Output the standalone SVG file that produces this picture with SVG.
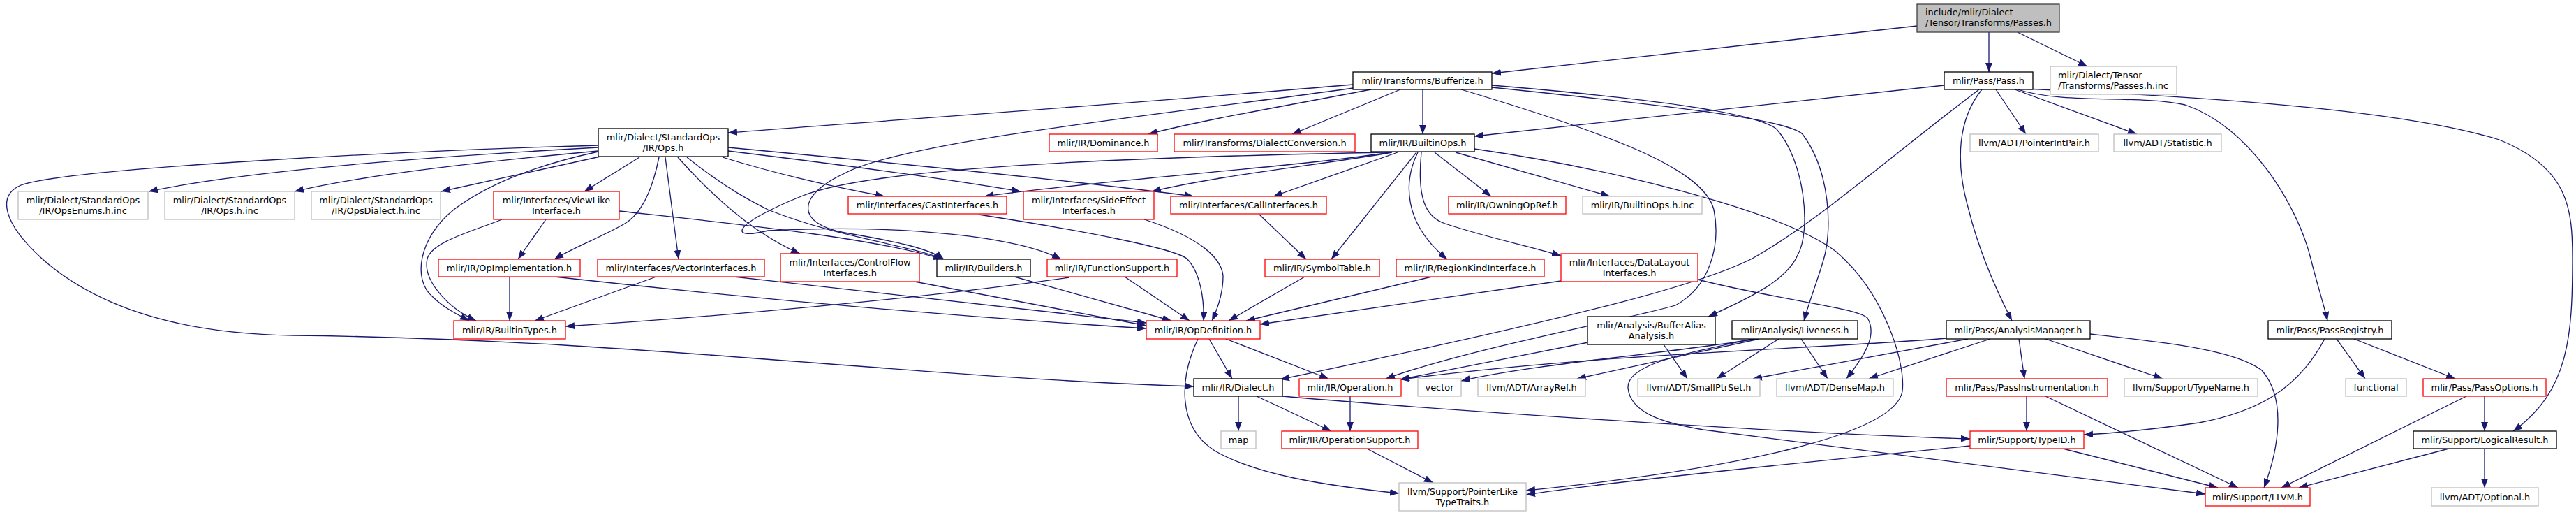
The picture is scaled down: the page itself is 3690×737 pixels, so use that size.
<svg xmlns="http://www.w3.org/2000/svg" width="3690" height="737" viewBox="0 0 3690 737">
<style>
.n rect{stroke-width:1.3}
.blk rect{fill:#fff;stroke:#000}
.red rect{fill:#fff;stroke:#ff0000}
.gry rect{fill:#fff;stroke:#bfbfbf}
.root rect{fill:#bfbfbf;stroke:#404040}
text{font-family:"DejaVu Sans","Liberation Sans",sans-serif;font-size:12.9px;fill:#000}
.c{text-anchor:middle}
#edges path{fill:none;stroke:#191970;stroke-width:1.3}
</style>
<defs>
<marker id="ah" markerUnits="userSpaceOnUse" markerWidth="14" markerHeight="10" refX="13" refY="5" orient="auto">
<path d="M0,0 L13,5 L0,10 z" fill="#191970"/>
</marker>
</defs>
<rect width="3690" height="737" fill="#fff"/>
<g id="edges" marker-end="url(#ah)">
<path d="M2746,37 L2137,105"/>
<path d="M2849,46 L2849,103"/>
<path d="M2890,46 L2990,95"/>
<path d="M1938,121 C1600,150 1300,170 1043,190"/>
<path d="M1938,126 C1700,160 1300,200 1210,248 C1140,280 1140,320 1210,333 C1280,345 1330,355 1352,371"/>
<path d="M1964,128 C1850,150 1720,172 1645,192"/>
<path d="M2006,128 L1851,192"/>
<path d="M2038,128 L2038,192"/>
<path d="M2137,122 C2350,140 2515,160 2545,185 C2585,230 2595,330 2575,365 C2560,400 2510,425 2447,453"/>
<path d="M2137,125 C2380,150 2560,170 2582,192 C2622,245 2625,330 2612,372 C2604,400 2592,430 2584,459"/>
<path d="M2093,128 C2300,190 2440,240 2455,300 C2465,350 2450,410 2400,437 C2340,455 2100,500 1985,542"/>
<path d="M2785,122 L2112,195"/>
<path d="M2835,128 C2700,230 2600,320 2510,370 C2440,405 2300,445 1834,543"/>
<path d="M2839,128 C2805,170 2800,230 2820,300 C2835,360 2862,420 2882,459"/>
<path d="M2859,128 L2902,192"/>
<path d="M2886,128 L3061,192"/>
<path d="M2890,128 C2960,150 3060,135 3130,150 C3220,180 3290,290 3310,370 C3320,410 3330,440 3334,459"/>
<path d="M2900,127 C3200,140 3450,160 3580,200 C3680,240 3685,300 3685,370 C3685,480 3680,560 3600,617"/>
<path d="M2788,484 C2600,500 2300,505 2006,543"/>
<path d="M2819,485 L2511,542"/>
<path d="M2851,485 L2677,542"/>
<path d="M2892,485 L2900,542"/>
<path d="M2930,485 L3098,542"/>
<path d="M2994,478 C3100,490 3200,500 3240,530 C3275,570 3265,640 3243,698"/>
<path d="M2903,567 L2903,617"/>
<path d="M2930,567 L3206,698"/>
<path d="M2822,638 C2600,660 2300,690 2186,708"/>
<path d="M2955,642 L3177,698"/>
<path d="M3330,485 C3290,560 3230,590 3150,605 C3080,615 3030,620 2985,622"/>
<path d="M3347,485 L3388,542"/>
<path d="M3372,485 L3517,542"/>
<path d="M3533,567 L3268,698"/>
<path d="M3559,567 L3559,617"/>
<path d="M3508,642 L3293,698"/>
<path d="M3559,642 L3559,698"/>
<path d="M2515,485 C2400,505 2200,520 2093,545"/>
<path d="M2520,485 L2259,542"/>
<path d="M2548,485 L2459,542"/>
<path d="M2580,485 L2618,542"/>
<path d="M2510,485 C2420,505 2330,520 2332,555 C2335,590 2380,605 2440,615 C2700,650 2950,680 3159,707"/>
<path d="M2275,490 L2006,543"/>
<path d="M2383,493 L2417,542"/>
<path d="M1732,485 L1765,542"/>
<path d="M1756,485 L1903,542"/>
<path d="M1716,485 C1690,540 1685,610 1740,645 C1800,680 1900,695 2004,706"/>
<path d="M1774,567 L1774,617"/>
<path d="M1800,567 L1907,617"/>
<path d="M1837,567 C2100,590 2600,622 2822,628"/>
<path d="M1934,567 L1934,617"/>
<path d="M1958,642 L2053,691"/>
<path d="M2112,213 C2300,240 2550,300 2630,360 C2700,420 2730,520 2725,560 C2715,620 2500,670 2186,702"/>
<path d="M2002,218 L1824,281"/>
<path d="M2029,218 L1907,371"/>
<path d="M2031,218 C2010,260 2010,320 2073,371"/>
<path d="M2036,218 C2030,280 2040,310 2070,320 C2130,340 2190,352 2236,366"/>
<path d="M2055,218 L2136,281"/>
<path d="M2085,218 L2306,281"/>
<path d="M1990,218 C1850,240 1600,255 1410,281"/>
<path d="M1994,218 C1900,235 1750,250 1650,274"/>
<path d="M1986,218 C1600,225 1250,240 1150,280 C1050,320 1040,345 1100,330 C1300,320 1460,340 1520,371"/>
<path d="M857,211 C600,225 350,245 213,274"/>
<path d="M857,216 C650,235 500,255 422,274"/>
<path d="M860,224 L632,274"/>
<path d="M857,208 C600,215 100,240 30,265 C-5,280 5,320 60,370 C150,450 280,478 420,480 C900,485 1300,540 1710,553"/>
<path d="M916,225 L837,274"/>
<path d="M857,217 C750,240 690,270 650,300 C600,340 590,400 620,425 C635,440 655,450 672,459"/>
<path d="M719,314 C680,330 620,345 612,370 C605,400 640,440 682,459"/>
<path d="M944,225 C935,270 920,305 895,320 C860,340 820,355 794,371"/>
<path d="M782,314 L742,371"/>
<path d="M953,225 L972,371"/>
<path d="M971,225 C1020,280 1080,335 1146,363"/>
<path d="M984,225 C1040,270 1080,290 1100,300 C1200,340 1300,350 1352,371"/>
<path d="M887,302 C1050,320 1250,340 1350,371"/>
<path d="M1035,225 C1100,245 1180,265 1267,281"/>
<path d="M1043,216 C1200,235 1350,255 1462,274"/>
<path d="M1043,211 C1300,235 1550,260 1710,281"/>
<path d="M1402,307 C1550,330 1680,355 1700,370 C1720,390 1725,430 1724,459"/>
<path d="M1639,314 C1720,340 1750,370 1752,395 C1752,420 1745,440 1736,459"/>
<path d="M1804,307 L1871,371"/>
<path d="M1869,396 L1760,459"/>
<path d="M2051,396 L1785,459"/>
<path d="M2236,402 L1805,464"/>
<path d="M2432,400 C2550,430 2660,440 2675,455 C2690,480 2670,510 2645,542"/>
<path d="M1310,403 L1642,466"/>
<path d="M1453,396 L1678,459"/>
<path d="M1611,396 L1704,459"/>
<path d="M1532,397 C1300,430 1000,455 810,467"/>
<path d="M730,396 L730,459"/>
<path d="M794,396 C1100,430 1400,455 1642,470"/>
<path d="M940,396 L766,459"/>
<path d="M1051,396 C1250,418 1450,440 1642,462"/>
</g>
<g id="n_passes" class="n root"><rect x="2746" y="6" width="204" height="40"/><text x="2758" y="22">include/mlir/Dialect</text><text x="2758" y="37">/Tensor/Transforms/Passes.h</text></g>
<g id="n_passinc" class="n gry"><rect x="2937" y="95" width="181" height="40"/><text x="2948" y="112">mlir/Dialect/Tensor</text><text x="2948" y="127">/Transforms/Passes.h.inc</text></g>
<g id="n_bufferize" class="n blk"><rect x="1938" y="103" width="199" height="25"/><text class="c" x="2037.5" y="120">mlir/Transforms/Bufferize.h</text></g>
<g id="n_pass" class="n blk"><rect x="2785" y="103" width="127" height="25"/><text class="c" x="2848.5" y="120">mlir/Pass/Pass.h</text></g>
<g id="n_opsh" class="n blk"><rect x="857" y="184" width="186" height="40"/><text class="c" x="950" y="201">mlir/Dialect/StandardOps</text><text class="c" x="950" y="216">/IR/Ops.h</text></g>
<g id="n_dominance" class="n red"><rect x="1503" y="192" width="155" height="25"/><text class="c" x="1580.5" y="209">mlir/IR/Dominance.h</text></g>
<g id="n_dialectconv" class="n red"><rect x="1682" y="192" width="259" height="25"/><text class="c" x="1811.5" y="209">mlir/Transforms/DialectConversion.h</text></g>
<g id="n_builtinops" class="n blk"><rect x="1964" y="192" width="148" height="25"/><text class="c" x="2038" y="209">mlir/IR/BuiltinOps.h</text></g>
<g id="n_pointerintpair" class="n gry"><rect x="2822" y="192" width="184" height="25"/><text class="c" x="2914" y="209">llvm/ADT/PointerIntPair.h</text></g>
<g id="n_statistic" class="n gry"><rect x="3028" y="192" width="154" height="25"/><text class="c" x="3105" y="209">llvm/ADT/Statistic.h</text></g>
<g id="n_opsenums" class="n gry"><rect x="26" y="274" width="186" height="40"/><text class="c" x="119" y="291">mlir/Dialect/StandardOps</text><text class="c" x="119" y="306">/IR/OpsEnums.h.inc</text></g>
<g id="n_opsinc" class="n gry"><rect x="236" y="274" width="186" height="40"/><text class="c" x="329" y="291">mlir/Dialect/StandardOps</text><text class="c" x="329" y="306">/IR/Ops.h.inc</text></g>
<g id="n_opsdialect" class="n gry"><rect x="446" y="274" width="185" height="40"/><text class="c" x="538.5" y="291">mlir/Dialect/StandardOps</text><text class="c" x="538.5" y="306">/IR/OpsDialect.h.inc</text></g>
<g id="n_viewlike" class="n red"><rect x="707" y="274" width="180" height="40"/><text class="c" x="797" y="291">mlir/Interfaces/ViewLike</text><text class="c" x="797" y="306">Interface.h</text></g>
<g id="n_cast" class="n red"><rect x="1215" y="281" width="227" height="25"/><text class="c" x="1328.5" y="298">mlir/Interfaces/CastInterfaces.h</text></g>
<g id="n_sideeffect" class="n red"><rect x="1466" y="274" width="187" height="40"/><text class="c" x="1559.5" y="291">mlir/Interfaces/SideEffect</text><text class="c" x="1559.5" y="306">Interfaces.h</text></g>
<g id="n_call" class="n red"><rect x="1677" y="281" width="223" height="25"/><text class="c" x="1788.5" y="298">mlir/Interfaces/CallInterfaces.h</text></g>
<g id="n_owning" class="n red"><rect x="2075" y="281" width="168" height="25"/><text class="c" x="2159" y="298">mlir/IR/OwningOpRef.h</text></g>
<g id="n_builtinopsinc" class="n gry"><rect x="2267" y="281" width="171" height="25"/><text class="c" x="2352.5" y="298">mlir/IR/BuiltinOps.h.inc</text></g>
<g id="n_opimpl" class="n red"><rect x="628" y="371" width="203" height="25"/><text class="c" x="729.5" y="388">mlir/IR/OpImplementation.h</text></g>
<g id="n_vectorif" class="n red"><rect x="856" y="371" width="239" height="25"/><text class="c" x="975.5" y="388">mlir/Interfaces/VectorInterfaces.h</text></g>
<g id="n_controlflow" class="n red"><rect x="1118" y="363" width="199" height="40"/><text class="c" x="1217.5" y="380">mlir/Interfaces/ControlFlow</text><text class="c" x="1217.5" y="395">Interfaces.h</text></g>
<g id="n_builders" class="n blk"><rect x="1342" y="371" width="134" height="25"/><text class="c" x="1409" y="388">mlir/IR/Builders.h</text></g>
<g id="n_funcsupport" class="n red"><rect x="1500" y="371" width="186" height="25"/><text class="c" x="1593" y="388">mlir/IR/FunctionSupport.h</text></g>
<g id="n_symboltable" class="n red"><rect x="1812" y="371" width="164" height="25"/><text class="c" x="1894" y="388">mlir/IR/SymbolTable.h</text></g>
<g id="n_regionkind" class="n red"><rect x="2000" y="371" width="212" height="25"/><text class="c" x="2106" y="388">mlir/IR/RegionKindInterface.h</text></g>
<g id="n_datalayout" class="n red"><rect x="2236" y="363" width="196" height="40"/><text class="c" x="2334" y="380">mlir/Interfaces/DataLayout</text><text class="c" x="2334" y="395">Interfaces.h</text></g>
<g id="n_builtintypes" class="n red"><rect x="650" y="459" width="160" height="26"/><text class="c" x="730" y="476.5">mlir/IR/BuiltinTypes.h</text></g>
<g id="n_opdef" class="n red"><rect x="1642" y="459" width="163" height="26"/><text class="c" x="1723.5" y="476.5">mlir/IR/OpDefinition.h</text></g>
<g id="n_bufferalias" class="n blk"><rect x="2274" y="453" width="183" height="40"/><text class="c" x="2365.5" y="470">mlir/Analysis/BufferAlias</text><text class="c" x="2365.5" y="485">Analysis.h</text></g>
<g id="n_liveness" class="n blk"><rect x="2481" y="459" width="180" height="26"/><text class="c" x="2571" y="476.5">mlir/Analysis/Liveness.h</text></g>
<g id="n_analysismgr" class="n blk"><rect x="2788" y="459" width="206" height="26"/><text class="c" x="2891" y="476.5">mlir/Pass/AnalysisManager.h</text></g>
<g id="n_passregistry" class="n blk"><rect x="3249" y="459" width="177" height="26"/><text class="c" x="3337.5" y="476.5">mlir/Pass/PassRegistry.h</text></g>
<g id="n_dialect" class="n blk"><rect x="1710" y="542" width="127" height="25"/><text class="c" x="1773.5" y="559">mlir/IR/Dialect.h</text></g>
<g id="n_operation" class="n red"><rect x="1861" y="542" width="146" height="25"/><text class="c" x="1934" y="559">mlir/IR/Operation.h</text></g>
<g id="n_vector" class="n gry"><rect x="2031" y="542" width="62" height="25"/><text class="c" x="2062" y="559">vector</text></g>
<g id="n_arrayref" class="n gry"><rect x="2117" y="542" width="154" height="25"/><text class="c" x="2194" y="559">llvm/ADT/ArrayRef.h</text></g>
<g id="n_smallptrset" class="n gry"><rect x="2346" y="542" width="175" height="25"/><text class="c" x="2433.5" y="559">llvm/ADT/SmallPtrSet.h</text></g>
<g id="n_densemap" class="n gry"><rect x="2545" y="542" width="167" height="25"/><text class="c" x="2628.5" y="559">llvm/ADT/DenseMap.h</text></g>
<g id="n_passinstr" class="n red"><rect x="2788" y="542" width="231" height="25"/><text class="c" x="2903.5" y="559">mlir/Pass/PassInstrumentation.h</text></g>
<g id="n_typename" class="n gry"><rect x="3043" y="542" width="191" height="25"/><text class="c" x="3138.5" y="559">llvm/Support/TypeName.h</text></g>
<g id="n_functional" class="n gry"><rect x="3360" y="542" width="87" height="25"/><text class="c" x="3403.5" y="559">functional</text></g>
<g id="n_passoptions" class="n red"><rect x="3471" y="542" width="176" height="25"/><text class="c" x="3559" y="559">mlir/Pass/PassOptions.h</text></g>
<g id="n_map" class="n gry"><rect x="1749" y="617" width="50" height="25"/><text class="c" x="1774" y="634">map</text></g>
<g id="n_opsupport" class="n red"><rect x="1836" y="617" width="195" height="25"/><text class="c" x="1933.5" y="634">mlir/IR/OperationSupport.h</text></g>
<g id="n_typeid" class="n red"><rect x="2822" y="617" width="163" height="25"/><text class="c" x="2903.5" y="634">mlir/Support/TypeID.h</text></g>
<g id="n_logicalresult" class="n blk"><rect x="3457" y="617" width="205" height="25"/><text class="c" x="3559.5" y="634">mlir/Support/LogicalResult.h</text></g>
<g id="n_pointerlike" class="n gry"><rect x="2004" y="691" width="182" height="40"/><text class="c" x="2095" y="708">llvm/Support/PointerLike</text><text class="c" x="2095" y="723">TypeTraits.h</text></g>
<g id="n_llvm" class="n red"><rect x="3159" y="698" width="150" height="26"/><text class="c" x="3234" y="715.5">mlir/Support/LLVM.h</text></g>
<g id="n_optional" class="n gry"><rect x="3483" y="698" width="153" height="26"/><text class="c" x="3559.5" y="715.5">llvm/ADT/Optional.h</text></g>
</svg>
